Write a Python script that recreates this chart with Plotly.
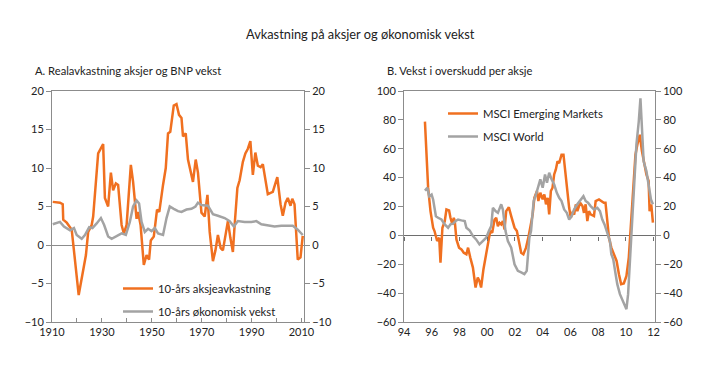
import plotly.graph_objects as go

# ---- Panel A: annual real stock returns vs GDP growth (10-year) ----
a_stock_year = [1910.3, 1913.2, 1914.3, 1914.5, 1915.9, 1917.9, 1920.7, 1923.6, 1924.5, 1925.9, 1926.5,
                1928.5, 1930.5, 1931.2, 1932.5, 1933.6, 1934.5, 1935.6, 1936.5, 1937.9, 1938.8, 1939.9,
                1941.6, 1942.5, 1943.9, 1944.5, 1945.5, 1946.8, 1947.9, 1948.9, 1949.6, 1950.8, 1952.1,
                1953.0, 1954.5, 1955.6, 1956.5, 1957.4, 1958.8, 1959.9, 1960.9, 1961.9, 1962.5, 1963.6,
                1964.5, 1966.5, 1967.6, 1968.5, 1969.9, 1971.2, 1972.3, 1973.2, 1974.5, 1975.5, 1976.5,
                1977.6, 1978.5, 1980.5, 1981.5, 1982.5, 1983.2, 1984.3, 1985.2, 1986.5, 1987.5, 1988.5,
                1989.5, 1990.5, 1991.5, 1992.5, 1993.6, 1994.5, 1996.5, 1998.5, 2000.3, 2001.6, 2002.5,
                2003.6, 2004.5, 2005.6, 2006.3, 2007.2, 2008.5, 2009.6, 2010.5]
a_stock_val = [5.6, 5.5, 5.3, 3.3, 2.9, 2.0, -6.5, -1.3, 1.7, 2.6, 3.7,
               11.9, 13.1, 6.1, 5.0, 9.4, 7.1, 8.0, 7.8, 2.6, 1.5, 2.6,
               10.4, 8.2, 3.4, 4.3, 2.6, -2.6, -1.3, -1.9, 0.6, 1.1, 4.6,
               4.3, 7.8, 10.0, 14.5, 14.7, 18.1, 18.3, 16.9, 16.5, 14.1, 14.5,
               11.1, 8.2, 11.1, 9.4, 4.2, 3.7, 6.5, 1.7, -2.1, -0.7, 1.3,
               -0.4, -0.7, 3.1, 0.9, -0.9, 2.6, 7.4, 8.4, 10.8, 11.9, 12.5,
               13.5, 9.1, 12.0, 10.3, 10.1, 10.5, 6.6, 6.9, 8.8, 5.3, 3.8,
               5.5, 6.1, 5.1, 6.0, 5.3, -1.9, -1.6, 1.2]

a_gdp_year = [1910.3, 1913.2, 1914.8, 1917.2, 1918.8, 1919.9, 1921.9, 1923.2, 1924.9, 1926.2, 1927.9,
              1929.6, 1930.9, 1932.5, 1933.9, 1935.9, 1937.9, 1939.6, 1941.2, 1942.5, 1943.9, 1944.9,
              1945.9, 1947.2, 1948.5, 1949.9, 1951.2, 1952.5, 1954.5, 1955.9, 1957.2, 1958.8, 1960.5,
              1961.9, 1963.9, 1965.9, 1967.5, 1968.5, 1969.9, 1972.5, 1974.5, 1976.5, 1979.2, 1981.2,
              1982.9, 1984.5, 1987.2, 1989.9, 1991.9, 1993.9, 1996.5, 1999.2, 2001.9, 2006.5, 2008.5,
              2010.5]
a_gdp_val = [2.7, 3.0, 2.4, 1.9, 2.2, 1.3, 0.8, 1.3, 2.3, 2.2, 2.8,
             3.5, 2.6, 1.1, 0.8, 1.1, 1.5, 1.3, 3.0, 5.0, 5.8, 5.4,
             3.0, 1.7, 2.1, 1.8, 2.2, 1.5, 1.3, 3.5, 5.0, 4.7, 4.4,
             4.3, 4.6, 4.7, 5.0, 5.5, 5.2, 5.1, 4.0, 3.8, 3.5, 3.1,
             2.4, 3.1, 3.0, 3.0, 3.1, 2.7, 2.6, 2.4, 2.5, 2.5, 2.0,
             1.3]

# ---- Panel B: earnings-per-share growth ----
b_em_year = [1995.51, 1995.63, 1995.74, 1995.91, 1996.10, 1996.20, 1996.39, 1996.54, 1996.63, 1996.77,
             1996.94, 1997.06, 1997.25, 1997.35, 1997.49, 1997.59, 1997.66, 1997.78, 1997.97, 1998.14,
             1998.31, 1998.50, 1998.62, 1998.78, 1998.97, 1999.16, 1999.32, 1999.44, 1999.56, 1999.73,
             1999.93, 2000.05, 2000.22, 2000.36, 2000.53, 2000.65, 2000.77, 2000.89, 2001.01, 2001.13,
             2001.25, 2001.37, 2001.56, 2001.73, 2001.97, 2002.14, 2002.28, 2002.45, 2002.61, 2002.80,
             2002.99, 2003.11, 2003.28, 2003.40, 2003.59, 2003.69, 2003.83, 2004.00, 2004.12, 2004.24,
             2004.36, 2004.47, 2004.59, 2004.71, 2004.83, 2004.95, 2005.07, 2005.19, 2005.36, 2005.50,
             2005.60, 2005.74, 2005.91, 2006.03, 2006.15, 2006.27, 2006.39, 2006.50, 2006.70, 2006.87,
             2006.98, 2007.10, 2007.22, 2007.34, 2007.46, 2007.70, 2007.82, 2008.06, 2008.22, 2008.41,
             2008.53, 2008.66, 2008.78, 2008.95, 2009.14, 2009.33, 2009.50, 2009.66, 2009.85, 2010.04,
             2010.21, 2010.37, 2010.52, 2010.69, 2010.85, 2011.00, 2011.16, 2011.33, 2011.48, 2011.64,
             2011.71, 2011.83, 2011.95]
b_em_val = [78.8, 51.0, 32.9, 16.8, 5.3, 3.0, -3.9, -1.6, -18.9, 5.3,
            9.9, 17.9, 17.2, 12.2, 7.6, 12.2, 9.9, -2.8, -8.5, -9.7,
            -12.0, -13.1, -8.5, -15.4, -22.3, -36.1, -29.2, -31.5, -36.1, -23.4,
            -13.1, -6.2, 3.0, 1.8, 11.0, 12.2, 6.4, 8.7, 7.6, 9.9,
            4.1, 16.8, 19.5, 13.3, 5.3, 3.0, -3.9, -12.0, -13.1, -8.5,
            -0.5, 5.3, 14.5, 26.0, 30.7, 23.8, 29.5, 24.9, 28.4, 21.5,
            26.0, 14.5, 30.7, 33.0, 42.2, 45.7, 51.3, 50.1, 55.9, 55.9,
            46.7, 35.3, 19.1, 12.2, 15.6, 14.5, 21.5, 16.8, 22.6, 20.3,
            15.6, 21.5, 9.9, 16.8, 14.5, 13.3, 23.8, 24.9, 23.8, 22.6,
            22.6, 7.6, -1.6, -8.5, -13.1, -17.7, -26.9, -33.8, -33.3, -28.1,
            -15.4, 7.6, 26.0, 55.9, 63.9, 69.7, 58.2, 49.0, 42.2, 37.6,
            16.8, 21.5, 8.8]

b_world_year = [1995.51, 1995.68, 1995.82, 1995.99, 1996.10, 1996.30, 1996.46, 1996.70, 1996.94, 1997.18,
                1997.35, 1997.54, 1997.73, 1997.90, 1998.14, 1998.38, 1998.50, 1998.74, 1998.97, 1999.20,
                1999.44, 1999.68, 1999.93, 2000.12, 2000.29, 2000.41, 2000.60, 2000.77, 2001.01, 2001.13,
                2001.32, 2001.49, 2001.73, 2001.97, 2002.21, 2002.45, 2002.68, 2002.85, 2002.92, 2003.04,
                2003.16, 2003.35, 2003.52, 2003.69, 2003.83, 2004.00, 2004.17, 2004.31, 2004.47, 2004.64,
                2004.83, 2005.02, 2005.19, 2005.36, 2005.55, 2005.74, 2005.91, 2006.08, 2006.27, 2006.50,
                2006.75, 2006.94, 2007.10, 2007.27, 2007.46, 2007.70, 2007.94, 2008.13, 2008.30, 2008.46,
                2008.66, 2008.85, 2008.95, 2009.09, 2009.26, 2009.38, 2009.57, 2009.73, 2009.90, 2010.04,
                2010.16, 2010.28, 2010.45, 2010.62, 2010.76, 2010.93, 2011.05, 2011.16, 2011.28, 2011.48,
                2011.64, 2011.81, 2011.95]
b_world_val = [31.0, 32.9, 27.1, 28.3, 24.9, 13.3, 12.2, 11.0, 7.6, 5.3,
               7.6, 8.1, 9.9, 11.0, 10.4, 9.9, 5.3, 3.4, -0.5, -2.8,
               -6.2, -3.9, -1.6, 3.0, 6.4, 19.1, 16.8, 15.6, 21.5, 17.9,
               3.0, -3.9, -8.5, -20.0, -24.6, -25.7, -26.9, -24.6, -15.4, -1.6,
               3.0, 23.8, 28.4, 35.3, 38.8, 33.0, 42.2, 36.4, 43.4, 38.8,
               35.3, 29.5, 26.0, 23.8, 18.0, 15.6, 11.0, 13.3, 18.0, 21.5,
               24.9, 27.1, 23.8, 22.6, 20.3, 18.0, 19.1, 16.8, 11.0, 7.6,
               1.8, -3.9, -13.1, -16.6, -26.9, -33.8, -40.7, -44.2, -47.6, -51.1,
               -40.7, -20.0, 7.6, 44.5, 62.9, 79.0, 95.0, 74.4, 51.3, 44.5,
               35.3, 24.9, 21.5]

a_xticks = [1910, 1930, 1950, 1970, 1990, 2010]
a_yticks = [-10, -5, 0, 5, 10, 15, 20]
b_xticks = [1994, 1996, 1998, 2000, 2002, 2004, 2006, 2008, 2010, 2012]
b_xticktext = ["94", "96", "98", "00", "02", "04", "06", "08", "10", "12"]
b_yticks = [-60, -40, -20, 0, 20, 40, 60, 80, 100]

labels_a = ["10-års aksjeavkastning", "10-års økonomisk vekst"]
labels_b = ["MSCI Emerging Markets", "MSCI World"]

ORANGE = "#F07020"
GRAY = "#A3A3A3"
AXIS = "#8C8C8C"
TXT = "#222222"
FONT = "Lato"

W, H = 719, 374
OFF = 8  # page body margin of the html page
def px(x):
    return (x - OFF) / W
def py(y):
    return (H - (y - OFF)) / H

fig = go.Figure()
fig.add_trace(go.Scatter(x=a_stock_year, y=a_stock_val, mode="lines", name=labels_a[0],
                         line=dict(color=ORANGE, width=2.5), xaxis="x", yaxis="y",
                         legend="legend", legendgroup="a1"))
fig.add_trace(go.Scatter(x=a_gdp_year, y=a_gdp_val, mode="lines", name=labels_a[1],
                         line=dict(color=GRAY, width=2.5), xaxis="x", yaxis="y",
                         legend="legend", legendgroup="a2"))
fig.add_trace(go.Scatter(x=b_em_year, y=b_em_val, mode="lines", name=labels_b[0],
                         line=dict(color=ORANGE, width=2.5), xaxis="x2", yaxis="y3",
                         legend="legend2", legendgroup="b1"))
fig.add_trace(go.Scatter(x=b_world_year, y=b_world_val, mode="lines", name=labels_b[1],
                         line=dict(color=GRAY, width=2.5), xaxis="x2", yaxis="y3",
                         legend="legend2", legendgroup="b2"))
# empty helper traces so that the mirrored right-hand axes and extra tick axes get drawn
for xa, ya in [("x", "y2"), ("x3", "y"), ("x2", "y4"), ("x4", "y3")]:
    fig.add_trace(go.Scatter(x=[None], y=[None], mode="lines", showlegend=False,
                             hoverinfo="skip", xaxis=xa, yaxis=ya))

tickfont = dict(family=FONT, size=11, color=TXT)
ydomA = [py(322), py(91)]
xdomA = [px(52), px(304)]
xdomB = [px(404), px(655)]

common_y = dict(showgrid=False, showline=True, linecolor=AXIS, linewidth=1, ticks="outside",
                ticklen=5, tickcolor=AXIS, tickfont=tickfont, domain=ydomA, automargin=False)

fig.update_layout(
    width=W, height=H, margin=dict(l=0, r=0, t=0, b=0, autoexpand=False),
    paper_bgcolor="white", plot_bgcolor="white",
    font=dict(family=FONT, color=TXT),
    xaxis=dict(domain=xdomA, range=[1910, 2011], tickvals=a_xticks, showgrid=False,
               showline=True, linecolor=AXIS, mirror=True, ticks="", tickfont=tickfont,
               anchor="y", zeroline=False, automargin=False),
    xaxis3=dict(domain=xdomA, range=[1910, 2011], dtick=10, tick0=1910, showgrid=False,
                showline=False, ticks="inside", ticklen=4, tickcolor=AXIS, showticklabels=False,
                overlaying="x", anchor="y", zeroline=False, automargin=False),
    yaxis=dict(range=[-10, 20], tickvals=a_yticks, anchor="x", zeroline=True,
               zerolinecolor=AXIS, zerolinewidth=1, **common_y),
    yaxis2=dict(range=[-10, 20], tickvals=a_yticks, anchor="x", overlaying="y", side="right",
                zeroline=False, **common_y),
    xaxis2=dict(domain=xdomB, range=[1994, 2012.1], tickvals=b_xticks, ticktext=b_xticktext,
                showgrid=False, showline=True, linecolor=AXIS, mirror=True, ticks="",
                tickfont=tickfont, anchor="y3", zeroline=False, automargin=False),
    xaxis4=dict(domain=xdomB, range=[1994, 2012.1], tickvals=b_xticks, showgrid=False,
                showline=False, ticks="outside", ticklen=4, tickcolor="#6E6E6E", showticklabels=False,
                overlaying="x2", anchor="free", position=py(236), side="bottom", zeroline=False,
                automargin=False),
    yaxis3=dict(range=[-60, 100], tickvals=b_yticks, anchor="x2", zeroline=True,
                zerolinecolor="#6E6E6E", zerolinewidth=1, **common_y),
    yaxis4=dict(range=[-60, 100], tickvals=b_yticks, anchor="x2", overlaying="y3", side="right",
                zeroline=False, **common_y),
    legend=dict(x=px(118), y=py(274), xanchor="left", yanchor="top", bgcolor="rgba(0,0,0,0)",
                font=dict(family=FONT, size=11.3, color=TXT), traceorder="grouped", tracegroupgap=4),
    legend2=dict(x=px(443), y=py(99), xanchor="left", yanchor="top", bgcolor="rgba(0,0,0,0)",
                 font=dict(family=FONT, size=11.3, color=TXT), traceorder="grouped", tracegroupgap=4),
    showlegend=True,
)

fig.add_annotation(text="Avkastning på aksjer og økonomisk vekst", x=px(360), y=py(34),
                   xref="paper", yref="paper", showarrow=False, xanchor="center", yanchor="middle",
                   font=dict(family=FONT, size=12.8, color=TXT))
fig.add_annotation(text="A. Realavkastning aksjer og BNP vekst", x=px(33), y=py(70),
                   xref="paper", yref="paper", showarrow=False, xanchor="left", yanchor="middle",
                   font=dict(family=FONT, size=11.2, color=TXT))
fig.add_annotation(text="B. Vekst i overskudd per aksje", x=px(385), y=py(70),
                   xref="paper", yref="paper", showarrow=False, xanchor="left", yanchor="middle",
                   font=dict(family=FONT, size=11.2, color=TXT))

fig.write_html("out.html")
